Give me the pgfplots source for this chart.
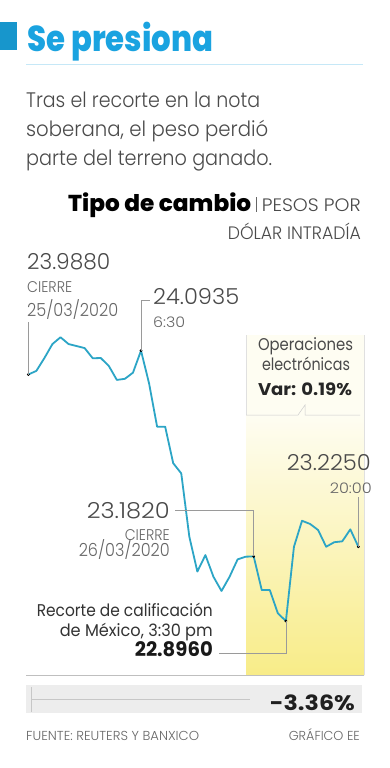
\documentclass[border=0pt]{standalone}
\usepackage{graphicx}
\usepackage{pgfplots}
\pgfplotsset{compat=1.18}
\usepackage{fontspec}
\setmainfont{Poppins}
\IfFontExistsTF{Poppins Light}{\newfontfamily\flt{Poppins Light}}{\newfontfamily\flt{Poppins}}
\IfFontExistsTF{Poppins ExtraBold}{\newfontfamily\fxb{Poppins ExtraBold}}{\newfontfamily\fxb{Poppins}[FakeBold=2]}
\newcommand\fw[2]{\resizebox{#1}{\height}{#2}}
\newcommand\fs[1]{\fontsize{#1}{#1}\selectfont}
\definecolor{titleblue}{HTML}{1AA3E0}
\definecolor{sqblue}{HTML}{1796CC}
\definecolor{linecol}{HTML}{2CA5C6}
\definecolor{txt}{HTML}{4A4A4A}
\definecolor{txtl}{HTML}{666666}
\definecolor{ylw}{HTML}{F8EC88}
\definecolor{ylwt}{HTML}{FEFDF2}
\definecolor{conn}{HTML}{9A9A9A}
\begin{document}
\begin{tikzpicture}
\path[use as bounding box, fill=white] (0,0) rectangle (389pt,-768pt);
% header
\fill[sqblue] (0,-22pt) rectangle (17pt,-50pt);
\node[anchor=base west, inner sep=0pt, text=titleblue] at (27pt,-52pt) {\fw{186pt}{\fxb\fs{36}Se presiona}};
\draw[color=titleblue!25, line width=0.6pt] (26pt,-64pt) -- (363pt,-64pt);
\node[anchor=base west, inner sep=0pt, text=txt] at (26pt,-107.3pt) {\fw{234pt}{\flt\fs{21}Tras el recorte en la nota}};
\node[anchor=base west, inner sep=0pt, text=txt] at (26pt,-136.5pt) {\fw{242pt}{\flt\fs{21}soberana, el peso perdió}};
\node[anchor=base west, inner sep=0pt, text=txt] at (26pt,-165.5pt) {\fw{246pt}{\flt\fs{21}parte del terreno ganado.}};
\node[anchor=base west, inner sep=0pt, text=black] at (68pt,-211.7pt) {\fw{183pt}{\fxb\fs{23}Tipo de cambio}};
\draw[color=txtl, line width=0.5pt] (256.7pt,-197pt) -- (256.7pt,-212pt);
\node[anchor=base east, inner sep=0pt, text=txt] at (361pt,-211.7pt) {\fw{99pt}{\flt\fs{18}PESOS POR}};
\node[anchor=base east, inner sep=0pt, text=txt] at (361pt,-239.3pt) {\fw{133pt}{\flt\fs{18}DÓLAR INTRADÍA}};
% yellow band
\fill[ylwt] (246pt,-335pt) rectangle (364pt,-415pt);
\shade[top color=ylwt, bottom color=ylw] (246pt,-415pt) rectangle (364pt,-675pt);
\draw[color=black!12, line width=0.5pt] (246pt,-335pt) -- (246pt,-415pt);
\draw[color=black!12, line width=0.5pt] (364pt,-335pt) -- (364pt,-675pt);
\draw[color=black!20, line width=0.5pt] (246pt,-415pt) -- (298pt,-415pt) -- (305pt,-405pt) -- (305pt,-415pt) -- (360pt,-415pt);
\begin{axis}[at={(26pt,-675pt)}, anchor=south west, scale only axis,
  width=338pt, height=340pt, xmin=-0.286, xmax=41.7, ymin=22.6568, ymax=24.163,
  hide axis, clip=false]
\addplot[color=linecol, line width=1.8pt, line join=round] table {
x y
0 23.988
1 24.004
2 24.061
3 24.123
4 24.153
5 24.123
6 24.114
7 24.105
8 24.060
9 24.061
10 24.026
11 23.964
12 23.969
13 23.996
14 24.0935
15 23.949
16 23.757
17 23.757
18 23.595
19 23.550
20 23.270
21 23.115
22 23.188
23 23.092
24 23.029
25 23.092
26 23.169
27 23.181
28 23.182
29 23.033
30 23.033
31 22.930
32 22.896
33 23.225
34 23.340
35 23.326
36 23.299
37 23.225
38 23.245
39 23.249
40 23.302
41 23.225
};
\addplot[only marks, mark=*, mark size=1.2pt, color=black] coordinates {(0,23.988) (14,24.0935) (28,23.182) (32,22.896) (41,23.225)};
\coordinate (A) at (axis cs:0,23.988);
\coordinate (B) at (axis cs:14,24.0935);
\coordinate (C) at (axis cs:28,23.182);
\coordinate (D) at (axis cs:32,22.896);
\coordinate (E) at (axis cs:41,23.225);
\end{axis}
% connectors
\draw[conn, line width=0.5pt] (A) -- (A |- 0,-322pt);
\draw[conn, line width=0.5pt] (B) -- (B |- 0,-300pt) -- (150pt,-300pt);
\draw[conn, line width=0.5pt] (C) -- (C |- 0,-510pt) -- (175pt,-510pt);
\draw[conn, line width=0.5pt] (D) -- (D |- 0,-653pt) -- (219pt,-653pt);
\draw[conn, line width=0.5pt] (E) -- (E |- 0,-497pt);
% annotations
\node[anchor=base west, inner sep=0pt, text=txt] at (27pt,-269pt) {\fw{83pt}{\flt\fs{22}23.9880}};
\node[anchor=base west, inner sep=0pt, text=txtl] at (27pt,-292.3pt) {\fw{45pt}{\flt\fs{15.5}CIERRE}};
\node[anchor=base west, inner sep=0pt, text=txtl] at (27pt,-316pt) {\fw{91pt}{\flt\fs{18}25/03/2020}};
\node[anchor=base west, inner sep=0pt, text=txt] at (153pt,-304.3pt) {\fw{86pt}{\flt\fs{22}24.0935}};
\node[anchor=base west, inner sep=0pt, text=txtl] at (153pt,-327.3pt) {\fw{32pt}{\flt\fs{14.5}6:30}};
\node[anchor=base, inner sep=0pt, text=txt] at (305.5pt,-350pt) {\fw{95pt}{\fs{17}Operaciones}};
\node[anchor=base, inner sep=0pt, text=txt] at (306pt,-370pt) {\fw{88pt}{\fs{17}electrónicas}};
\node[anchor=base, inner sep=0pt, text=black!85] at (305pt,-395pt) {\fw{94pt}{\bfseries\fs{17}Var: 0.19\%}};
\node[anchor=base east, inner sep=0pt, text=txt] at (371pt,-470pt) {\fw{84pt}{\flt\fs{22}23.2250}};
\node[anchor=base east, inner sep=0pt, text=txtl] at (372pt,-493.3pt) {\fw{42pt}{\flt\fs{14.5}20:00}};
\node[anchor=base east, inner sep=0pt, text=txt] at (170pt,-518.3pt) {\fw{83pt}{\flt\fs{22}23.1820}};
\node[anchor=base east, inner sep=0pt, text=txtl] at (170pt,-540pt) {\fw{45pt}{\flt\fs{15.5}CIERRE}};
\node[anchor=base east, inner sep=0pt, text=txtl] at (170pt,-556.7pt) {\fw{91pt}{\flt\fs{18}26/03/2020}};
\node[anchor=base east, inner sep=0pt, text=black!80] at (213pt,-616.7pt) {\fw{176pt}{\fs{17}Recorte de calificación}};
\node[anchor=base east, inner sep=0pt, text=black!80] at (213pt,-636.7pt) {\fw{153pt}{\fs{17}de México, 3:30 pm}};
\node[anchor=base east, inner sep=0pt, text=black!90] at (213pt,-656.7pt) {\fw{78pt}{\bfseries\fs{20}22.8960}};
% bottom
\draw[color=black!25, line width=0.8pt] (26pt,-675pt) -- (364pt,-675pt);
\fill[black!7] (26pt,-685pt) rectangle (362pt,-713pt);
\draw[color=black!22, line width=0.5pt] (31pt,-699.5pt) -- (250pt,-699.5pt);
\draw[color=black!22, line width=0.5pt] (31pt,-687pt) -- (31pt,-712pt);
\node[anchor=base east, inner sep=0pt, text=black!88] at (355pt,-710pt) {\fw{85pt}{\bfseries\fs{21}-3.36\%}};
\node[anchor=base west, inner sep=0pt, text=txtl] at (26pt,-740.7pt) {\fw{173pt}{\flt\fs{13}FUENTE: REUTERS Y BANXICO}};
\node[anchor=base east, inner sep=0pt, text=txtl] at (360pt,-740.7pt) {\fw{71pt}{\flt\fs{13}GRÁFICO EE}};
\end{tikzpicture}
\end{document}
